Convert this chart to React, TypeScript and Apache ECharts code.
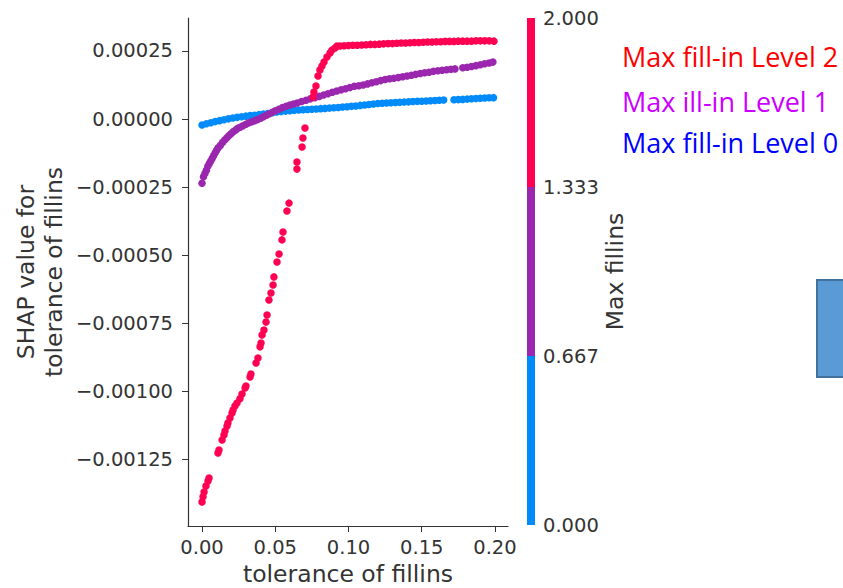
import React, { useEffect, useRef } from "react";
import * as echarts from "echarts";

// tolerance of fillins vs SHAP value, one list per "Max fillins" level
const level0Points: [number, number][] = [
  [0.0, -0.000022], [0.003, -0.0000175], [0.006, -0.0000135], [0.009, -0.0000095], [0.012, -0.000006],
  [0.015, -0.000003], [0.018, 0.0000005], [0.021, 0.0000035], [0.024, 0.000006], [0.027, 0.0000085],
  [0.03, 0.0000105], [0.033, 0.0000125], [0.036, 0.000014], [0.039, 0.000016], [0.042, 0.000018],
  [0.045, 0.0000205], [0.048, 0.000023], [0.051, 0.0000255], [0.054, 0.0000275], [0.057, 0.000029],
  [0.06, 0.0000305], [0.063, 0.000032], [0.066, 0.000033], [0.069, 0.000034], [0.072, 0.000035],
  [0.075, 0.000036], [0.078, 0.000037], [0.081, 0.000038], [0.084, 0.000039], [0.087, 0.00004],
  [0.09, 0.0000415], [0.093, 0.0000425], [0.096, 0.000044], [0.099, 0.000045], [0.102, 0.0000465],
  [0.105, 0.000048], [0.108, 0.00005], [0.111, 0.0000515], [0.114, 0.0000535], [0.117, 0.000055],
  [0.12, 0.000057], [0.123, 0.000058], [0.126, 0.000059], [0.129, 0.0000595], [0.132, 0.0000605],
  [0.135, 0.0000615], [0.138, 0.0000625], [0.141, 0.000063], [0.144, 0.000064], [0.147, 0.0000648],
  [0.15, 0.0000655], [0.153, 0.0000663], [0.156, 0.0000672], [0.159, 0.000068], [0.162, 0.0000688],
  [0.165, 0.0000695], [0.172, 0.0000705], [0.175, 0.0000712], [0.178, 0.000072], [0.181, 0.000073],
  [0.184, 0.0000742], [0.187, 0.0000752], [0.19, 0.0000762], [0.193, 0.000077], [0.196, 0.0000778],
  [0.199, 0.0000785],
];

const level1Points: [number, number][] = [
  [0.0, -0.000236], [0.001, -0.000212], [0.002, -0.0002], [0.003, -0.000188], [0.004, -0.000174],
  [0.005, -0.000163], [0.006, -0.000154], [0.007, -0.000144], [0.008, -0.000134], [0.009, -0.000124],
  [0.01, -0.000115], [0.011, -0.000106], [0.0125, -0.000097], [0.014, -0.000086], [0.0155, -0.000077],
  [0.017, -0.000069], [0.0185, -0.000061], [0.02, -0.000053], [0.0215, -0.000046], [0.023, -0.00004],
  [0.0245, -0.000034], [0.026, -0.00003], [0.028, -0.000025], [0.03, -0.000019], [0.032, -0.000014],
  [0.034, -0.00001], [0.036, -0.000006], [0.038, -0.000002], [0.04, 0.000003], [0.042, 0.000008],
  [0.044, 0.000014], [0.046, 0.000019], [0.048, 0.000025], [0.05, 0.00003], [0.0525, 0.000036],
  [0.055, 0.000042], [0.0575, 0.000047], [0.06, 0.000051], [0.0625, 0.000055], [0.065, 0.000059],
  [0.068, 0.000064], [0.071, 0.000069], [0.074, 0.000074], [0.077, 0.000078], [0.08, 0.000083],
  [0.083, 0.000088], [0.086, 0.000093], [0.089, 0.000098], [0.092, 0.000103], [0.095, 0.000107],
  [0.098, 0.000111], [0.101, 0.000116], [0.104, 0.00012], [0.107, 0.000122], [0.11, 0.000125],
  [0.113, 0.000129], [0.116, 0.000133], [0.119, 0.000137], [0.122, 0.000141], [0.125, 0.000145],
  [0.128, 0.000148], [0.131, 0.00015], [0.134, 0.000152], [0.137, 0.000155], [0.14, 0.000158],
  [0.143, 0.000161], [0.146, 0.000164], [0.149, 0.000167], [0.152, 0.00017], [0.155, 0.000172],
  [0.158, 0.000175], [0.161, 0.000177], [0.164, 0.000179], [0.167, 0.000181], [0.17, 0.000183],
  [0.1727, 0.000184], [0.178, 0.000188], [0.181, 0.00019], [0.184, 0.000193], [0.187, 0.000196],
  [0.19, 0.000199], [0.193, 0.000203], [0.196, 0.000206], [0.1986, 0.000209],
];

const level2Points: [number, number][] = [
  [0.0, -0.001407], [0.0007, -0.001388], [0.0014, -0.00137], [0.0027, -0.001348], [0.0041, -0.00133],
  [0.0048, -0.001319], [0.0109, -0.001227], [0.0116, -0.001216], [0.0137, -0.001179], [0.015, -0.001161],
  [0.0157, -0.001146], [0.0171, -0.001128], [0.0177, -0.001117], [0.0191, -0.001098], [0.0205, -0.00108],
  [0.0212, -0.001069], [0.0225, -0.001054], [0.0239, -0.001043], [0.0259, -0.001028], [0.0273, -0.00101],
  [0.0294, -0.000988], [0.03, -0.000981], [0.0328, -0.000948], [0.0334, -0.000937], [0.0369, -0.000896],
  [0.0382, -0.000878], [0.0396, -0.000837], [0.0403, -0.000823], [0.041, -0.000793], [0.0423, -0.000775],
  [0.0437, -0.000746], [0.0444, -0.00072], [0.0457, -0.000665], [0.0471, -0.000639], [0.0485, -0.00061],
  [0.0491, -0.00058], [0.0512, -0.000525], [0.0526, -0.000496], [0.0546, -0.000444], [0.0553, -0.000415],
  [0.058, -0.000338], [0.0594, -0.000309], [0.0648, -0.000184], [0.0648, -0.000158], [0.0683, -0.000103],
  [0.0689, -0.00007], [0.0703, -0.000033], [0.0758, 0.000081], [0.0764, 0.000099], [0.0778, 0.000121],
  [0.0792, 0.000158], [0.0805, 0.00018], [0.0819, 0.000195], [0.0833, 0.000209], [0.0853, 0.000228],
  [0.0874, 0.000242], [0.0887, 0.000253], [0.0908, 0.000261], [0.0922, 0.000268], [0.0942, 0.000268],
  [0.097, 0.000269], [0.1, 0.00027], [0.103, 0.000271], [0.106, 0.000271], [0.109, 0.000272],
  [0.112, 0.000273], [0.115, 0.000274], [0.118, 0.000274], [0.121, 0.000275], [0.124, 0.000276],
  [0.127, 0.000277], [0.13, 0.000277], [0.133, 0.000278], [0.136, 0.000279], [0.139, 0.000279],
  [0.142, 0.00028], [0.145, 0.000281], [0.148, 0.000281], [0.151, 0.000282], [0.154, 0.000283],
  [0.157, 0.000283], [0.16, 0.000284], [0.163, 0.000284], [0.166, 0.000285], [0.169, 0.000285],
  [0.172, 0.000285], [0.175, 0.000286], [0.178, 0.000286], [0.181, 0.000286], [0.184, 0.000286],
  [0.187, 0.000287], [0.19, 0.000287], [0.193, 0.000287], [0.196, 0.000287], [0.1993, 0.000286],
];

const xTicks = [0, 0.05, 0.1, 0.15, 0.2];
const yTicks = [-0.00125, -0.001, -0.00075, -0.0005, -0.00025, 0, 0.00025];
const colorbarTicks = [0, 2 / 3, 4 / 3, 2];
const colorbarSegments = [2 / 3, 2 / 3, 2 / 3];
const levelColors = ["#008bfb", "#9b27af", "#ff0052"];
const annotations = [
  { text: "Max fill-in Level 2", color: "#ff0000" },
  { text: "Max ill-in Level 1", color: "#cc00ff" },
  { text: "Max fill-in Level 0", color: "#0000ff" },
];

const FONT = "DejaVu Sans";
const TXT = "#333333";

export default function App() {
  const ref = useRef<HTMLDivElement>(null);
  useEffect(() => {
    if (!ref.current) return;
    const chart = echarts.init(ref.current, undefined, { renderer: "svg" });
    const fmtY = (v: number) => (v < 0 ? "\u2212" : "") + Math.abs(v).toFixed(5);
    const annY = [56, 101, 142];
    chart.setOption({
      animation: false,
      backgroundColor: "#ffffff",
      grid: [
        { left: 188, top: 18, width: 320, height: 508, outerBoundsMode: "none", containLabel: false },
        { left: 527, top: 18, width: 8, height: 507, outerBoundsMode: "none", containLabel: false },
      ],
      xAxis: [
        {
          type: "value",
          gridIndex: 0,
          min: -0.00956,
          max: 0.2089,
          name: "tolerance of fillins",
          nameLocation: "middle",
          nameGap: 36,
          nameTextStyle: { fontFamily: FONT, fontSize: 23.5, lineHeight: 24, color: TXT },
          axisLine: { show: true, onZero: false, lineStyle: { color: TXT, width: 1.2 } },
          axisTick: { show: true, length: 6, customValues: xTicks, lineStyle: { color: TXT } },
          axisLabel: {
            customValues: xTicks,
            margin: 11,
            fontFamily: FONT,
            fontSize: 19.5,
            color: TXT,
            formatter: (v: number) => v.toFixed(2),
          },
          splitLine: { show: false },
        },
        {
          type: "category",
          gridIndex: 1,
          data: [""],
          show: false,
        },
      ],
      yAxis: [
        {
          type: "value",
          gridIndex: 0,
          min: -0.001495,
          max: 0.000371,
          name: "SHAP value for\ntolerance of fillins",
          nameLocation: "middle",
          nameRotate: 90,
          nameGap: 120,
          nameTextStyle: { fontFamily: FONT, fontSize: 23.5, lineHeight: 28, color: TXT },
          axisLine: { show: true, onZero: false, lineStyle: { color: TXT, width: 1.2 } },
          axisTick: { show: true, length: 6, customValues: yTicks, lineStyle: { color: TXT } },
          axisLabel: {
            customValues: yTicks,
            margin: 15,
            fontFamily: FONT,
            fontSize: 19.5,
            color: TXT,
            formatter: fmtY,
          },
          splitLine: { show: false },
        },
        {
          type: "value",
          gridIndex: 1,
          min: 0,
          max: 2,
          position: "right",
          name: "Max fillins",
          nameLocation: "middle",
          nameRotate: 90,
          nameGap: 68,
          nameTextStyle: { fontFamily: FONT, fontSize: 23.5, color: TXT },
          axisLine: { show: false },
          axisTick: { show: false },
          axisLabel: {
            customValues: colorbarTicks,
            margin: 8,
            fontFamily: FONT,
            fontSize: 19.5,
            color: TXT,
            formatter: (v: number) => v.toFixed(3),
          },
          splitLine: { show: false },
        },
      ],
      series: [
        ...[level0Points, level1Points, level2Points].map((pts, i) => ({
          type: "scatter",
          xAxisIndex: 0,
          yAxisIndex: 0,
          data: pts,
          symbolSize: 7.5,
          itemStyle: { color: levelColors[i], opacity: 1 },
          z: 2 + i,
        })),
        ...colorbarSegments.map((v, i) => ({
          type: "bar",
          xAxisIndex: 1,
          yAxisIndex: 1,
          stack: "cb",
          barWidth: "100%",
          data: [v],
          itemStyle: { color: levelColors[i] },
        })),
      ],
      graphic: [
        ...annotations.map((a, i) => ({
          type: "text",
          x: 622,
          y: annY[i],
          style: {
            text: a.text,
            fill: a.color,
            fontFamily: "Open Sans",
            fontSize: 27,
            verticalAlign: "middle",
            align: "left",
          },
        })),
        {
          type: "rect",
          shape: { x: 817, y: 280, width: 32, height: 97 },
          style: { fill: "#5b9bd5", stroke: "#41719c", lineWidth: 2 },
        },
      ],
    });
    return () => chart.dispose();
  }, []);
  return (
    <div
      ref={ref}
      style={{ position: "fixed", left: 0, top: 0, width: 843, height: 588 }}
    />
  );
}
